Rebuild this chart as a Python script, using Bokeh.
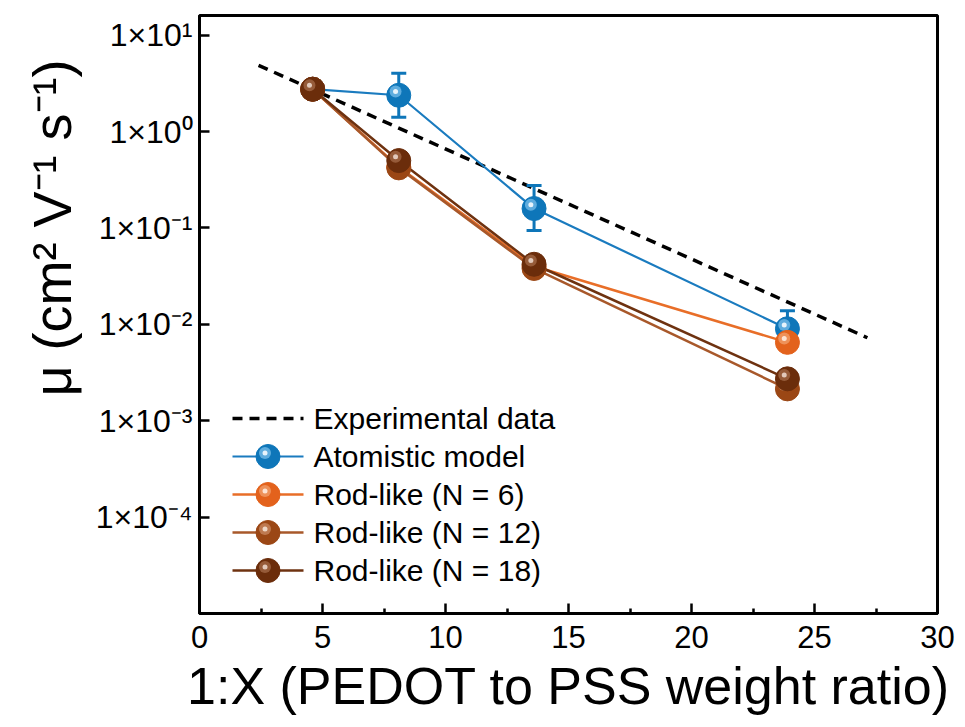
import numpy as np
from bokeh.plotting import figure
from bokeh.models import FixedTicker, Range1d, CustomJSTickFormatter, Title, LinearScale
from bokeh.core.properties import value
from bokeh.embed import file_html
from bokeh.resources import INLINE

# ---------------- data ----------------
x_ratio = [4.6, 8.1, 13.6, 23.9]

exp_x = [2.4, 27.15]
exp_mu = [4.87, 0.00726]

atom_mu = [2.75, 2.38, 0.159, 0.0090]
err_x = [8.1, 13.6, 23.9]
err_upper = [4.03, 0.276, 0.0138]
err_lower = [1.41, 0.094, 0.0058]

rod6_mu = [2.75, 0.43, 0.040, 0.0065]
rod12_mu = [2.75, 0.42, 0.038, 0.00214]
rod18_mu = [2.75, 0.50, 0.042, 0.00272]

x_ticks = [0, 5, 10, 15, 20, 25, 30]
x_minor = [2.5, 7.5, 12.5, 17.5, 22.5, 27.5]
y_ticks = [1e1, 1e0, 1e-1, 1e-2, 1e-3, 1e-4]
y_tick_labels = ["1×10¹", "1×10⁰", "1×10⁻¹", "1×10⁻²", "1×10⁻³", "1×10⁻⁴"]

labels = ["Experimental data", "Atomistic model", "Rod-like (N = 6)",
          "Rod-like (N = 12)", "Rod-like (N = 18)"]

x_title = "1:X (PEDOT to PSS weight ratio)"
y_title = "μ (cm² V⁻¹ s⁻¹)"

FONT = "Liberation Sans"

# ---------------- figure ----------------
FW, FH = 738, 598
p = figure(frame_width=FW, frame_height=FH, x_range=(0, 30), y_range=(1e-5, 16),
           y_axis_type="log", output_backend="svg", toolbar_location=None,
           min_border_left=199, min_border_right=28, min_border_top=15,
           min_border_bottom=0)
p.extra_x_ranges = {"px": Range1d(0, FW)}
p.extra_y_ranges = {"py": Range1d(0, FH)}
p.extra_x_scales = {"px": LinearScale()}
p.extra_y_scales = {"py": LinearScale()}
p.grid.visible = False
p.outline_line_color = "black"
p.outline_line_width = 3
p.background_fill_color = "white"
p.border_fill_color = "white"

xa = p.xaxis[0]
ya = p.yaxis[0]
xa.ticker = FixedTicker(ticks=x_ticks, minor_ticks=x_minor)
ya.ticker = FixedTicker(ticks=y_ticks, minor_ticks=[])
ya.formatter = CustomJSTickFormatter(
    args=dict(exps=[int(round(np.log10(t))) for t in y_ticks], labels=y_tick_labels),
    code="const e = Math.round(Math.log10(tick)); const i = exps.indexOf(e);"
         " return i >= 0 ? labels[i] : '';")

for ax in (xa, ya):
    ax.axis_line_width = 3
    ax.axis_line_color = "black"
    ax.major_tick_line_width = 2.5
    ax.major_tick_line_color = "black"
    ax.minor_tick_line_width = 2.5
    ax.minor_tick_line_color = "black"
    ax.major_tick_in = 10
    ax.major_tick_out = 0
    ax.minor_tick_in = 5
    ax.minor_tick_out = 0
    ax.major_label_text_font = FONT
    ax.major_label_text_color = "black"

xa.major_label_text_font_size = "31px"
xa.major_label_standoff = 12
ya.major_label_text_font_size = "32px"
ya.major_label_standoff = 7

# axis titles as side-panel titles
p.add_layout(Title(text=x_title, align="center", text_font=FONT, text_font_size="52px",
                   text_font_style="normal", text_color="black", standoff=8), "below")
p.add_layout(Title(text=y_title, align="left", offset=217, text_font=FONT,
                   text_font_size="54px", text_font_style="normal", text_color="black",
                   standoff=22), "left")

# ---------------- colours ----------------
series = [
    # (values, line colour, base, mid, spot, line width)
    (atom_mu, "#1a7bbf", "#0e76b9", "#6cb6e4", "#eef7fc", 2.2),
    (rod6_mu, "#e86e28", "#e3621c", "#f09a64", "#fde8da", 2.5),
    (rod12_mu, "#a8582a", "#9b4715", "#c4825a", "#f0dccd", 2.5),
    (rod18_mu, "#6e3210", "#6b2d0b", "#9e6442", "#e6d0c2", 2.5),
]

# experimental trend
p.line(exp_x, exp_mu, line_color="black", line_width=3.5, line_dash="10 7")

# series lines
for vals, lc, base, mid, spot, lw in series:
    p.line(x_ratio, vals, line_color=lc, line_width=lw)

# error bars for atomistic model
blue = "#0e76b9"
p.segment(x0=err_x, y0=err_lower, x1=err_x, y1=err_upper, line_color=blue, line_width=3)
p.scatter(err_x, err_upper, marker="dash", size=15, line_color=blue, line_width=3)
p.scatter(err_x, err_lower, marker="dash", size=15, line_color=blue, line_width=3)


def sphere(xs, ys, base, mid, spot, x_range_name="default", y_range_name="default",
           dx=0.13, fy=10 ** 0.04, additive=False):
    xs = np.asarray(xs, dtype=float)
    ys = np.asarray(ys, dtype=float)
    hx = xs - dx
    hy = ys + fy if additive else ys * fy
    kw = dict(x_range_name=x_range_name, y_range_name=y_range_name)
    p.scatter(xs, ys, marker="circle", size=24, fill_color=base, line_color=base,
              line_width=1, **kw)
    p.scatter(hx, hy, marker="circle", size=12, fill_color=mid, fill_alpha=0.85,
              line_alpha=0, **kw)
    p.scatter(hx, hy, marker="circle", size=5, fill_color=spot, fill_alpha=0.95,
              line_alpha=0, **kw)


for vals, lc, base, mid, spot, lw in series:
    sphere(x_ratio, vals, base, mid, spot)

# ---------------- legend (drawn in frame pixel space) ----------------
LG_X0, LG_X1, LG_TX = 33, 104, 114
LG_Y0, LG_DY = 195, 38
rows_y = [LG_Y0 - LG_DY * i for i in range(len(labels))]
pk = dict(x_range_name="px", y_range_name="py")
p.line([LG_X0, LG_X1], [rows_y[0], rows_y[0]], line_color="black", line_width=3.5,
       line_dash="10 7", **pk)
for i, (vals, lc, base, mid, spot, lw) in enumerate(series):
    yy = rows_y[i + 1]
    p.line([LG_X0, LG_X1], [yy, yy], line_color=lc, line_width=lw, **pk)
    sphere([(LG_X0 + LG_X1) / 2], [yy], base, mid, spot, dx=3, fy=3.4, additive=True, **pk)
p.text(x=[LG_TX] * len(labels), y=rows_y, text=labels, text_align="left",
       text_baseline="middle", text_font=value(FONT), text_font_size="30px",
       text_color="black", **pk)

open("out.html", "w").write(file_html(p, INLINE))
